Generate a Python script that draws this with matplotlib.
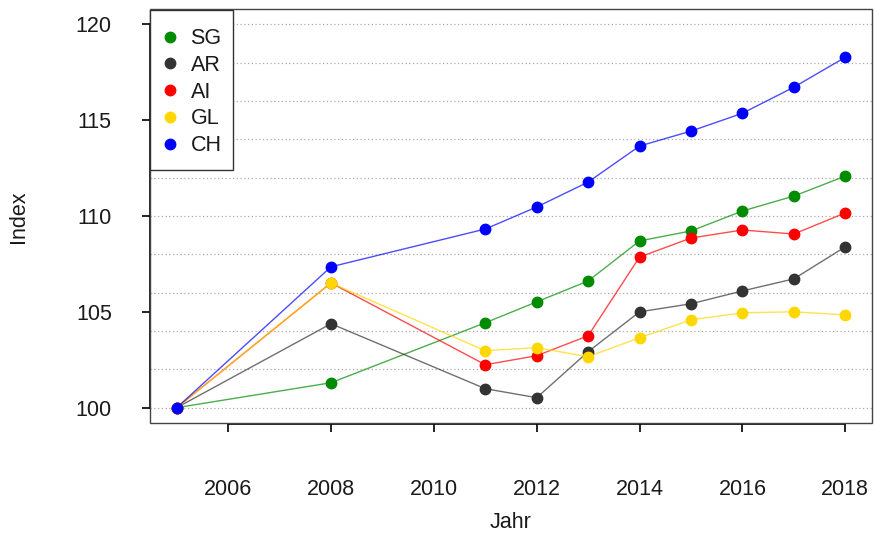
import matplotlib
matplotlib.use("Agg")
import matplotlib.pyplot as plt
from matplotlib.patches import Rectangle
from matplotlib.lines import Line2D

plt.rcParams['font.family'] = ['Liberation Sans', 'DejaVu Sans']

years = [2005, 2008, 2011, 2012, 2013, 2014, 2015, 2016, 2017, 2018]
sg = [100, 101.30, 104.43, 105.52, 106.61, 108.70, 109.22, 110.26, 111.04, 112.08]
ar = [100, 104.38, 100.99, 100.52, 102.92, 105.00, 105.42, 106.09, 106.72, 108.39]
ai = [100, 106.51, 102.24, 102.71, 103.75, 107.86, 108.85, 109.27, 109.06, 110.16]
gl = [100, 106.51, 102.97, 103.13, 102.66, 103.65, 104.58, 104.95, 105.00, 104.84]
ch = [100, 107.35, 109.32, 110.47, 111.77, 113.65, 114.43, 115.36, 116.72, 118.28]

series = [("SG", sg, "#008B00"), ("AR", ar, "#333333"), ("AI", ai, "#FF0000"),
          ("GL", gl, "#FFD700"), ("CH", ch, "#0000FF")]

xticks = [2006, 2008, 2010, 2012, 2014, 2016, 2018]
yticks = [100, 105, 110, 115, 120]
grid_y = list(range(100, 121, 2))

FS = 15.5
W, H = 874, 535
TXT = "#1a1a1a"

fig = plt.figure(figsize=(W/100, H/100), dpi=100)
ax = fig.add_axes([150/W, 1-423/H, (872-150)/W, (423-9)/H])
ax.set_xlim(2004.48, 2018.52)
ax.set_ylim(99.2, 120.8)

for g in grid_y:
    ax.axhline(g, color="#aaaaaa", lw=0.9, linestyle=(0, (1, 2)), zorder=1)

for name, vals, col in series:
    ax.plot(years, vals, color=col, lw=1.0, alpha=0.7, zorder=2)
    ax.plot(years, vals, linestyle="none", marker="o", ms=7.5, color=col, mec=col, zorder=3)

for s in ["top", "right"]:
    ax.spines[s].set_visible(False)
ax.spines["bottom"].set_bounds(2006, 2018)
ax.spines["left"].set_bounds(100, 120)
ax.spines["bottom"].set_linewidth(1.2)
ax.spines["left"].set_linewidth(1.2)
ax.spines["bottom"].set_position(("outward", 1))
ax.add_patch(Rectangle((0, 0), 1, 1, transform=ax.transAxes, fill=False,
                       edgecolor="#444444", lw=1.0, zorder=5, clip_on=False))

ax.set_xticks(xticks)
ax.set_yticks(yticks)
ax.tick_params(axis="x", length=5.5, width=1.2, pad=34, labelsize=FS, labelcolor=TXT)
ax.tick_params(axis="y", length=5.5, width=1.2, pad=22, labelsize=FS, labelcolor=TXT)

fig.text(18/W, 1-217/H, "Index", rotation=90, ha="center", va="center", fontsize=FS, color=TXT)
fig.text(511/W, 1-523/H, "Jahr", ha="center", va="center", fontsize=FS, color=TXT)

# legend drawn manually (pixel layout of the reference)
fig.patches.append(Rectangle((150/W, 1-170/H), (233-150)/W, (170-10)/H, transform=fig.transFigure,
                             facecolor="white", edgecolor="#333333", lw=1.0, zorder=6))
for i, (name, vals, col) in enumerate(series):
    yc = 36.7 + 26.7*i
    fig.lines.append(Line2D([170/W], [1-yc/H], transform=fig.transFigure, linestyle="none",
                            marker="o", ms=7.5, color=col, mec=col, zorder=7))
    fig.text(190.5/W, 1-(yc+7.6)/H, name, ha="left", va="baseline", fontsize=FS, color=TXT, zorder=7)

fig.savefig("out.png", dpi=100)
